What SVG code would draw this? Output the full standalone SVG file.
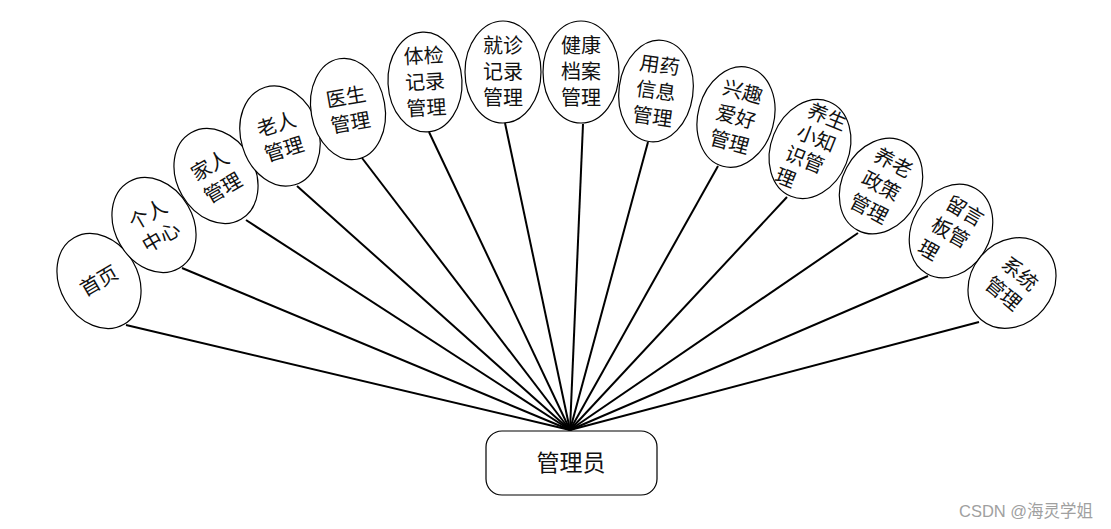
<svg xmlns="http://www.w3.org/2000/svg" width="1111" height="529" viewBox="0 0 1111 529">
<style>
.n ellipse{fill:#fff;stroke:#000;stroke-width:1.2}
.n text{font-family:"Liberation Serif","Noto Sans CJK SC",serif;font-size:20px;fill:#111;text-anchor:middle;dominant-baseline:central}
.c line{stroke:#000;stroke-width:2}
.hub rect{fill:#fff;stroke:#000;stroke-width:1.2}
.hub text{font-family:"Liberation Serif","Noto Sans CJK SC",serif;font-size:23px;fill:#111;text-anchor:middle;dominant-baseline:central}
.wm{font-family:"Liberation Sans","Noto Sans CJK SC",sans-serif;font-size:16.5px;fill:#a0a0a0}
</style>
<rect width="1111" height="529" fill="#fff"/>
<g class="c" id="connectors">
<line x1="570" y1="430" x2="126" y2="325"/>
<line x1="570" y1="430" x2="182" y2="268"/>
<line x1="570" y1="430" x2="246" y2="220"/>
<line x1="570" y1="430" x2="297" y2="186"/>
<line x1="570" y1="430" x2="362" y2="158"/>
<line x1="570" y1="430" x2="429" y2="132"/>
<line x1="570" y1="430" x2="505" y2="123"/>
<line x1="570" y1="430" x2="583" y2="124"/>
<line x1="570" y1="430" x2="648" y2="142"/>
<line x1="570" y1="430" x2="718" y2="166"/>
<line x1="570" y1="430" x2="787" y2="197"/>
<line x1="570" y1="430" x2="858" y2="233"/>
<line x1="570" y1="430" x2="928" y2="276"/>
<line x1="570" y1="430" x2="979" y2="322"/>
</g>
<g class="n" id="n01" transform="translate(99,281) rotate(-30)"><ellipse rx="39" ry="50"/><text y="0">首页</text></g>
<g class="n" id="n02" transform="translate(154,225) rotate(-30)"><ellipse rx="39" ry="50"/><text y="-12">个人</text><text y="14">中心</text></g>
<g class="n" id="n03" transform="translate(216,176) rotate(-30)"><ellipse rx="39" ry="50"/><text y="-12">家人</text><text y="14">管理</text></g>
<g class="n" id="n04" transform="translate(280,136) rotate(-17)"><ellipse rx="39" ry="51"/><text y="-12">老人</text><text y="14">管理</text></g>
<g class="n" id="n05" transform="translate(348,109) rotate(-10)"><ellipse rx="37" ry="51"/><text y="-12">医生</text><text y="14">管理</text></g>
<g class="n" id="n06" transform="translate(425,82) rotate(-3)"><ellipse rx="37" ry="50"/><text y="-26">体检</text><text y="0">记录</text><text y="26">管理</text></g>
<g class="n" id="n07" transform="translate(503,72)"><ellipse rx="38" ry="51"/><text y="-26">就诊</text><text y="0">记录</text><text y="26">管理</text></g>
<g class="n" id="n08" transform="translate(581,72)"><ellipse rx="38" ry="51"/><text y="-26">健康</text><text y="0">档案</text><text y="26">管理</text></g>
<g class="n" id="n09" transform="translate(656,91) rotate(8)"><ellipse rx="37" ry="51"/><text y="-26">用药</text><text y="0">信息</text><text y="26">管理</text></g>
<g class="n" id="n10" transform="translate(736,117) rotate(15)"><ellipse rx="38" ry="51"/><text y="-26">兴趣</text><text y="0">爱好</text><text y="26">管理</text></g>
<g class="n" id="n11" transform="translate(810,149) rotate(22)"><ellipse rx="39" ry="51"/><text y="-36" x="4">养生</text><text y="-12" x="2">小知</text><text y="12" x="-1">识管</text><text y="36" x="-12">理</text></g>
<g class="n" id="n12" transform="translate(881,186) rotate(28)"><ellipse rx="39" ry="50"/><text y="-26">养老</text><text y="0">政策</text><text y="26">管理</text></g>
<g class="n" id="n13" transform="translate(951,231) rotate(30)"><ellipse rx="39" ry="49"/><text y="-24" x="2">留言</text><text y="2" x="0">板管</text><text y="28" x="-10">理</text></g>
<g class="n" id="n14" transform="translate(1012,283) rotate(40)"><ellipse rx="41" ry="48"/><text y="-12">系统</text><text y="14">管理</text></g>
<g class="hub" id="hub"><rect x="486" y="431" width="171" height="64" rx="16"/><text x="571" y="463">管理员</text></g>
<text class="wm" x="959" y="517">CSDN @海灵学姐</text>
</svg>
